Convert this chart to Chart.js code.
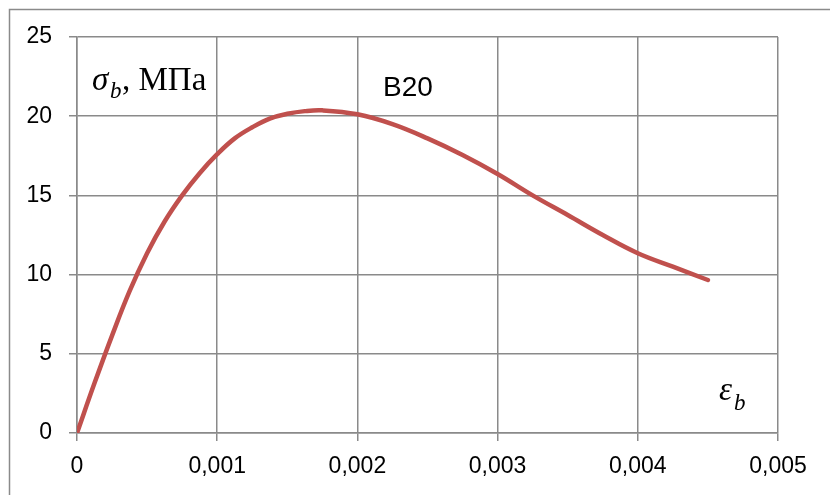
<!DOCTYPE html>
<html>
<head>
<meta charset="utf-8">
<script src="https://cdn.jsdelivr.net/npm/chart.js@4"></script>
<style>
  html, body { margin: 0; padding: 0; background: #fff; }
  #wrap { width: 830px; height: 495px; position: relative; }
</style>
</head>
<body>
<div id="wrap"><canvas id="chart" width="830" height="495"></canvas></div>
<script>
// strain (relative) and stress, MPa
const strain = [0, 0.000125, 0.00025, 0.000375, 0.0005, 0.000625, 0.00075, 0.000875, 0.001,
  0.001125, 0.00125, 0.001375, 0.0015, 0.001625, 0.00175, 0.002, 0.00225, 0.0025,
  0.00275, 0.003, 0.00325, 0.0035, 0.00375, 0.004, 0.00425, 0.0045];
const stress = [0, 3.15, 6.15, 8.95, 11.35, 13.35, 15.0, 16.4, 17.6,
  18.6, 19.3, 19.85, 20.15, 20.32, 20.37, 20.12, 19.5, 18.6,
  17.55, 16.35, 15.0, 13.76, 12.5, 11.35, 10.5, 9.66];

const xTicks = [0, 0.001, 0.002, 0.003, 0.004, 0.005];
const yTicks = [0, 5, 10, 15, 20, 25];

const gridColor = '#8a8a8a';
const tickFont = { family: 'Liberation Sans', size: 23 };

// outer frame + the text labels inside the plot
const decor = {
  id: 'decor',
  beforeDraw(chart) {
    const ctx = chart.ctx;
    ctx.save();
    ctx.strokeStyle = '#8a8a8a';
    ctx.lineWidth = 1.5;
    ctx.strokeRect(9.5, 9.5, 900, 600);
    ctx.restore();
  },
  afterDraw(chart) {
    const ctx = chart.ctx;
    ctx.save();
    ctx.fillStyle = '#000';
    ctx.textBaseline = 'alphabetic';

    // sigma_b, МПа
    ctx.font = 'italic 33px "Liberation Serif"';
    ctx.fillText('σ', 92, 90);
    ctx.font = 'italic 23px "Liberation Serif"';
    ctx.fillText('b', 110, 98);
    ctx.font = '33px "Liberation Serif"';
    ctx.fillText(', МПа', 122, 90);

    // epsilon_b
    ctx.font = 'italic 33px "Liberation Serif"';
    ctx.fillText('ε', 719, 400);
    ctx.font = 'italic 23px "Liberation Serif"';
    ctx.fillText('b', 734, 410);

    // class label
    ctx.font = '28px "Liberation Sans"';
    ctx.fillText('B20', 383, 96);
    ctx.restore();
  }
};

new Chart(document.getElementById('chart'), {
  type: 'line',
  data: {
    datasets: [{
      data: strain.map((e, i) => ({ x: e, y: stress[i] })),
      borderColor: '#C0504D',
      borderWidth: 4.5,
      borderCapStyle: 'round',
      pointRadius: 0,
      tension: 0.4,
      fill: false
    }]
  },
  options: {
    responsive: false,
    animation: false,
    layout: { padding: { top: 37, right: 52, left: 0, bottom: 0 } },
    plugins: { legend: { display: false }, tooltip: { enabled: false } },
    scales: {
      x: {
        type: 'linear',
        min: 0,
        max: 0.005,
        afterBuildTicks: s => { s.ticks = xTicks.map(v => ({ value: v })); },
        afterFit: s => { s.height = 62; },
        grid: { color: gridColor, lineWidth: 1.5, tickLength: 8 },
        border: { color: gridColor, width: 1.5 },
        ticks: {
          color: '#000',
          font: tickFont,
          padding: 12,
          maxRotation: 0,
          callback: v => v === 0 ? '0' : v.toFixed(3).replace('.', ',')
        }
      },
      y: {
        min: 0,
        max: 25,
        afterBuildTicks: s => { s.ticks = yTicks.map(v => ({ value: v })); },
        afterFit: s => { s.width = 77; },
        grid: { color: gridColor, lineWidth: 1.5, tickLength: 8 },
        border: { color: gridColor, width: 1.5 },
        ticks: { color: '#000', font: tickFont, padding: 17 }
      }
    }
  },
  plugins: [decor]
});
</script>
</body>
</html>
